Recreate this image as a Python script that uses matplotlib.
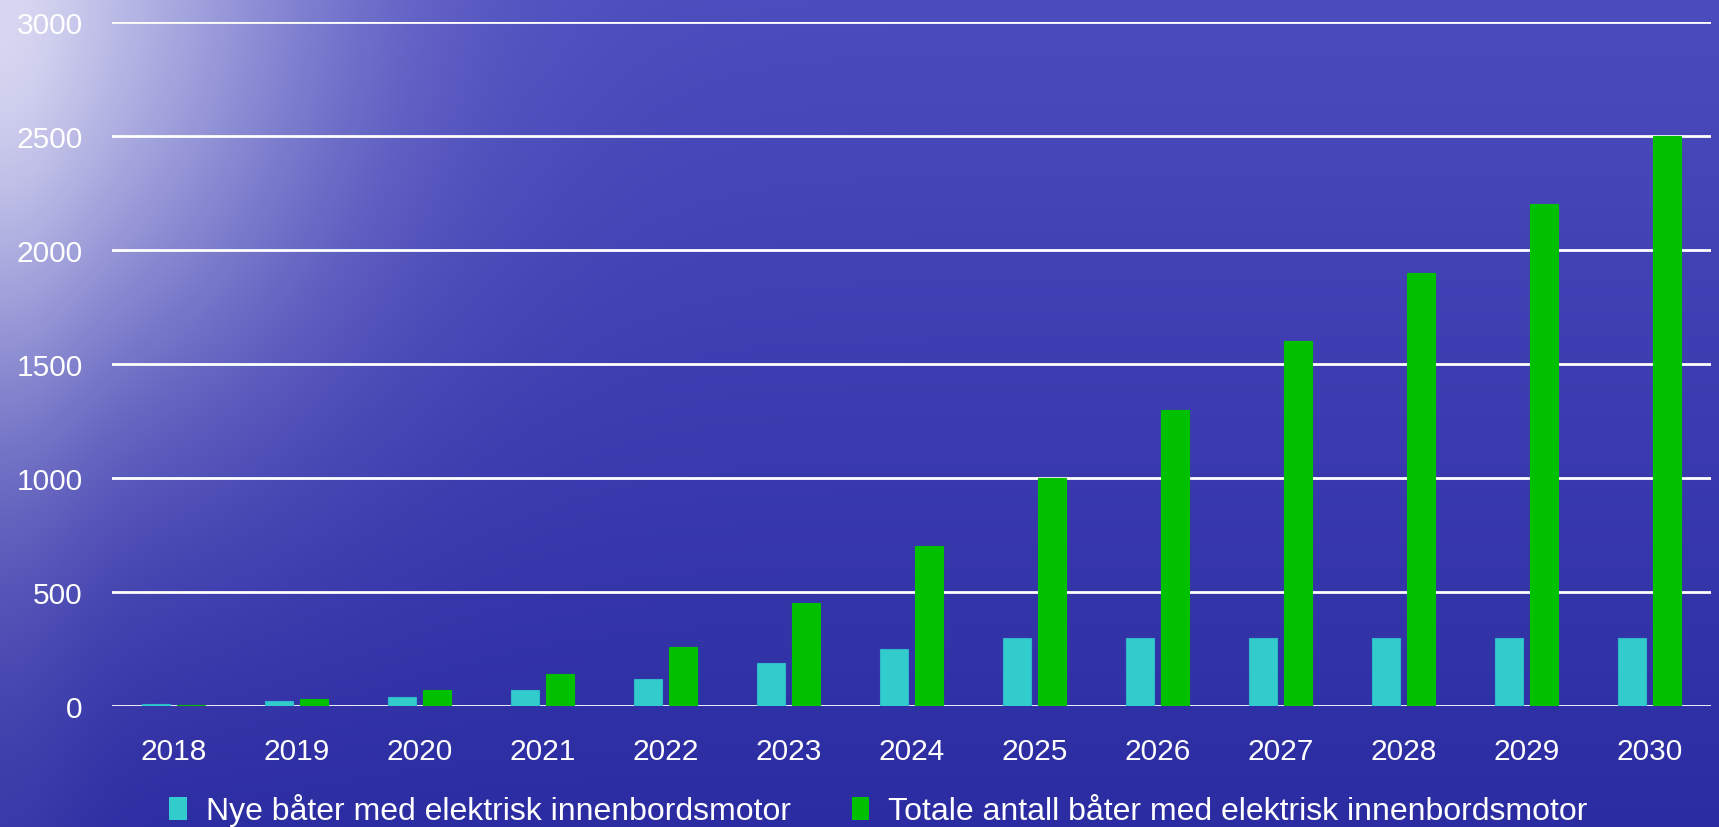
import numpy as np
import matplotlib
matplotlib.use("Agg")
import matplotlib.pyplot as plt
from matplotlib.patches import Patch

years = ["2018", "2019", "2020", "2021", "2022", "2023", "2024",
         "2025", "2026", "2027", "2028", "2029", "2030"]
nye = [10, 20, 40, 70, 120, 190, 250, 300, 300, 300, 300, 300, 300]
totale = [5, 30, 70, 140, 260, 450, 700, 1000, 1300, 1600, 1900, 2200, 2500]
label_nye = "Nye båter med elektrisk innenbordsmotor"
label_tot = "Totale antall båter med elektrisk innenbordsmotor"
yticks = [0, 500, 1000, 1500, 2000, 2500, 3000]

plt.rcParams['font.family'] = ['Liberation Sans', 'DejaVu Sans']

W, H = 1719, 828
fig = plt.figure(figsize=(W / 100, H / 100), dpi=100)

# background gradient (water-like blue with light glow at top-left)
bg = fig.add_axes([0, 0, 1, 1], zorder=-10)
yy, xx = np.mgrid[0:H, 0:W]
t = yy / H
top = np.array([0x4C, 0x4C, 0xBE]) / 255
bot = np.array([0x2C, 0x2C, 0xA2]) / 255
base = top[None, None, :] * (1 - t[..., None]) + bot[None, None, :] * t[..., None]
light = np.array([0xE4, 0xE4, 0xF6]) / 255
r2 = (xx / (0.19 * W)) ** 2 + (yy / (0.5 * H)) ** 2
w = 0.8 * np.exp(-r2)
r2b = (xx / (0.05 * W)) ** 2 + (yy / (1.2 * H)) ** 2
w = np.clip(w + 0.12 * np.exp(-r2b), 0, 1)
img = base * (1 - w[..., None]) + light[None, None, :] * w[..., None]
bg.imshow(img, aspect='auto', extent=[0, 1, 0, 1], origin='upper')
bg.set_axis_off()

ax = fig.add_axes([112 / W, 1 - 707 / H, (1711 - 112) / W, (707 - 23) / H])
ax.patch.set_alpha(0)
x = np.arange(len(years))
bw = 0.228
off = 0.143
ax.bar(x - off, nye, bw, color='#33CCCC', edgecolor='#2FB8C8', linewidth=0.8, zorder=3)
ax.bar(x + off, totale, bw, color='#00C000', edgecolor='#00C000', linewidth=0.8, zorder=3)

ax.set_xlim(-0.5, len(years) - 0.5)
ax.set_ylim(0, 3000)
ax.set_yticks(yticks)
ax.set_yticklabels([str(v) for v in yticks])
ax.set_xticks(x)
ax.set_xticklabels(years)
for v in yticks:
    ax.axhline(v, color='white', lw=2, zorder=2)
for s in ax.spines.values():
    s.set_visible(False)
ax.tick_params(axis='both', length=0, colors='white', labelsize=21.5)
ax.tick_params(axis='y', pad=21)
ax.tick_params(axis='x', pad=22)

handles = [Patch(facecolor='#33CCCC', edgecolor='none'),
           Patch(facecolor='#00C000', edgecolor='none')]
leg = fig.legend(handles, [label_nye, label_tot], loc='center',
                 bbox_to_anchor=(0.511, 17 / H), ncol=2, frameon=False,
                 fontsize=23, handlelength=0.55, handleheight=0.75,
                 handletextpad=0.6, columnspacing=1.9, labelcolor='white')

fig.savefig("out.png", dpi=100)
